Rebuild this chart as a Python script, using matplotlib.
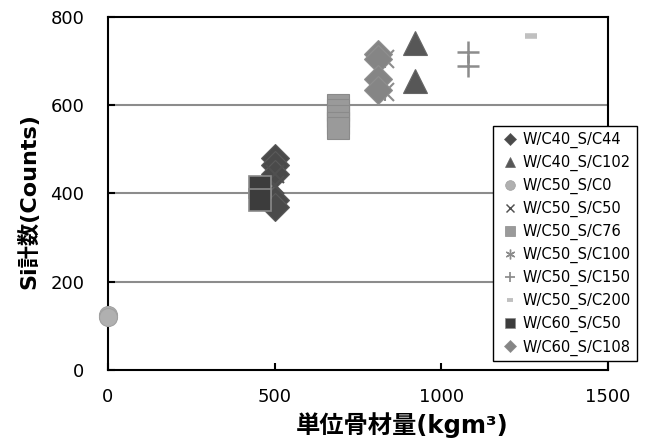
import matplotlib.pyplot as plt

plt.rcParams['font.family'] = ['DejaVu Sans', 'Noto Sans CJK JP']

# 単位骨材量 vs Si計数, one list pair per mix
labels = ['W/C40_S/C44', 'W/C40_S/C102', 'W/C50_S/C0', 'W/C50_S/C50',
          'W/C50_S/C76', 'W/C50_S/C100', 'W/C50_S/C150', 'W/C50_S/C200',
          'W/C60_S/C50', 'W/C60_S/C108']

x_c40_s44 = [500, 500, 500, 500, 500]
y_c40_s44 = [480, 465, 445, 385, 370]
x_c40_s102 = [920, 920]
y_c40_s102 = [740, 655]
x_c50_s0 = [0, 0]
y_c50_s0 = [125, 120]
x_c50_s50 = [500, 500]
y_c50_s50 = [445, 420]
x_c50_s76 = [690, 690, 690, 690, 690]
y_c50_s76 = [600, 590, 575, 560, 548]
x_c50_s100 = [830, 830]
y_c50_s100 = [705, 630]
x_c50_s150 = [1080, 1080]
y_c50_s150 = [720, 690]
x_c50_s200 = [1270]
y_c50_s200 = [757]
x_c60_s50 = [455, 455]
y_c60_s50 = [415, 385]
x_c60_s108 = [810, 810, 810, 810]
y_c60_s108 = [715, 705, 660, 635]

xs = [x_c40_s44, x_c40_s102, x_c50_s0, x_c50_s50, x_c50_s76,
      x_c50_s100, x_c50_s150, x_c50_s200, x_c60_s50, x_c60_s108]
ys = [y_c40_s44, y_c40_s102, y_c50_s0, y_c50_s50, y_c50_s76,
      y_c50_s100, y_c50_s150, y_c50_s200, y_c60_s50, y_c60_s108]

# marker, size, face colour, edge colour, edge width
styles = [
    ('D', 14, '#4a4a4a', '#5a5a5a', 0.8),
    ('^', 17, '#575757', '#666666', 0.8),
    ('o', 13, '#b0b0b0', '#a0a0a0', 0.8),
    ('x', 13, '#505050', '#505050', 1.5),
    ('s', 16, '#9a9a9a', '#8a8a8a', 0.8),
    ('x', 13, '#8c8c8c', '#8c8c8c', 1.5),
    ('+', 16, '#8c8c8c', '#8c8c8c', 1.8),
    ('_', 8, '#c0c0c0', '#c0c0c0', 4.0),
    ('s', 16, '#3c3c3c', '#8a8a8a', 1.2),
    ('D', 14, '#858585', '#8f8f8f', 0.8),
]

fig = plt.figure(figsize=(6.56, 4.46), dpi=100)
ax = fig.add_axes([0.1646, 0.1704, 0.7622, 0.7915])

for y in [200, 400, 600]:
    ax.axhline(y, color='#8c8c8c', lw=1.5, zorder=0)

handles = []
for lab, x, y, (m, ms, fc, ec, ew) in zip(labels, xs, ys, styles):
    if lab == 'W/C50_S/C100':
        # asterisk drawn as an x with a vertical bar
        ax.plot(x, y, ls='none', marker='x', ms=ms, mec=fc, mew=ew, zorder=3)
        ax.plot(x, y, ls='none', marker='|', ms=ms, mec=fc, mew=ew, zorder=3)
        h, = ax.plot([], [], ls='none', marker=(6, 2, 0), ms=7, mec=fc, mew=1.0)
    else:
        ax.plot(x, y, ls='none', marker=m, ms=ms, mfc=fc, mec=ec, mew=ew,
                zorder=3, clip_on=False)
        hs = ms * 0.45 if m != '_' else 5
        if m == 'o':
            hs = 7
        h, = ax.plot([], [], ls='none', marker=m, ms=hs, mfc=fc, mec=ec,
                     mew=ew * 0.7 if m in ('x', '+', '_') else 0.5)
    handles.append(h)

ax.set_xlim(0, 1500)
ax.set_ylim(0, 800)
ax.set_xticks([0, 500, 1000, 1500])
ax.set_yticks([0, 200, 400, 600, 800])
ax.tick_params(direction='in', length=5, width=1.5, labelsize=13, colors='black')
ax.tick_params(axis='x', pad=13)
ax.tick_params(axis='y', pad=17)
for s in ax.spines.values():
    s.set_linewidth(1.5)
    s.set_color('black')

# axis titles placed as free text, like the chart's own title boxes
fig.text(0.613, 0.047, '単位骨材量(kgm³)', fontsize=17.5, fontweight='bold',
         ha='center', va='center')
fig.text(0.0427, 0.549, 'Si計数(Counts)', fontsize=16, fontweight='bold',
         ha='center', va='center', rotation=90)

leg = fig.legend(handles, labels, loc='upper left',
                 bbox_to_anchor=(0.7515, 0.7175), bbox_transform=fig.transFigure,
                 fontsize=10.5, frameon=True, fancybox=False, framealpha=1,
                 edgecolor='black', borderaxespad=0, borderpad=0.4,
                 handlelength=1.6, handletextpad=0.05, labelspacing=0.47)
leg.get_frame().set_linewidth(1.0)

fig.savefig('out.png', dpi=100)
